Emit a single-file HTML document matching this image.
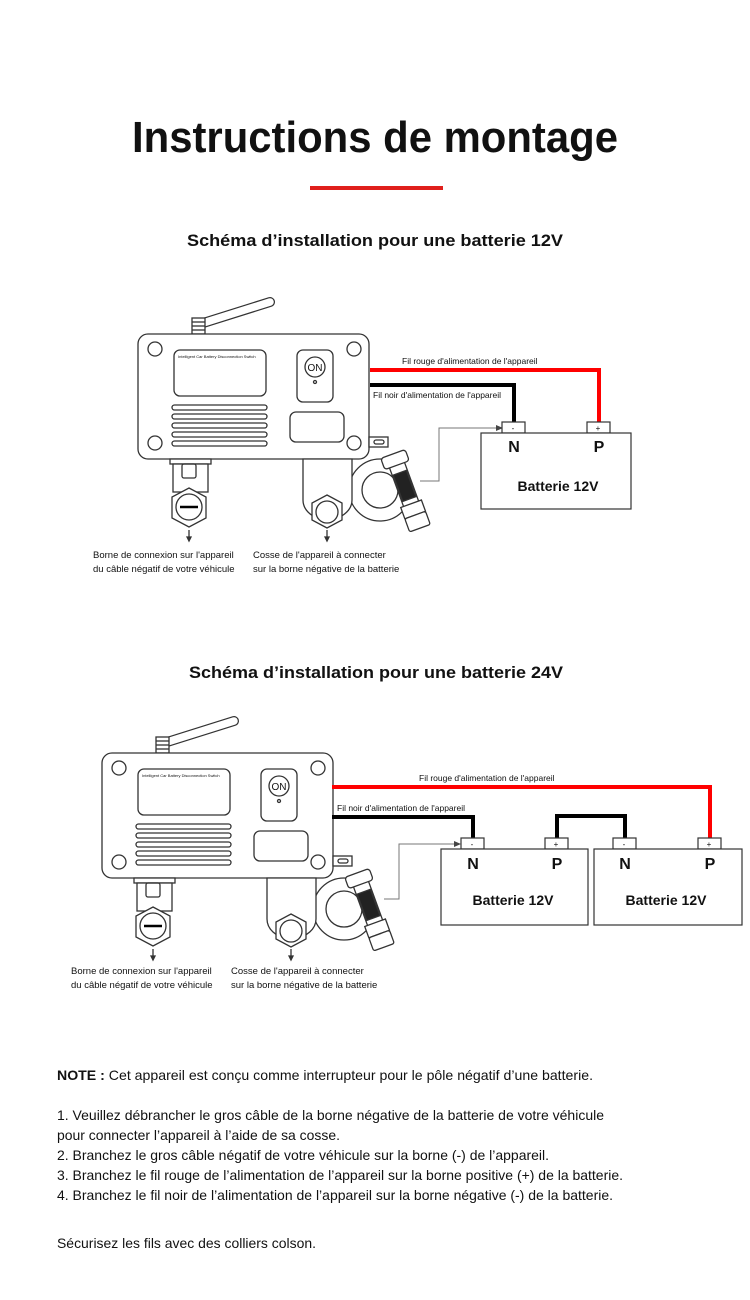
<!DOCTYPE html>
<html><head><meta charset="utf-8"><style>
html,body{margin:0;padding:0;background:#fff}
svg{display:block}
text{font-family:"Liberation Sans",Arial,sans-serif;fill:#111}
</style></head><body>
<svg width="750" height="1300" viewBox="0 0 750 1300" xmlns="http://www.w3.org/2000/svg">
<text x="375" y="152" text-anchor="middle" font-size="44" font-weight="bold" textLength="486" lengthAdjust="spacingAndGlyphs">Instructions de montage</text>
<rect x="310" y="186" width="133" height="4" fill="#e0201c"/>
<text x="375" y="246" text-anchor="middle" font-size="17" font-weight="bold" textLength="376" lengthAdjust="spacingAndGlyphs">Schéma d’installation pour une batterie 12V</text>
<text x="376" y="678" text-anchor="middle" font-size="17" font-weight="bold" textLength="374" lengthAdjust="spacingAndGlyphs">Schéma d’installation pour une batterie 24V</text>

<!-- DEVICE 1 -->
<g fill="none" stroke="#333" stroke-width="1.3">
 <line x1="200" y1="324" x2="270" y2="302" stroke="#333" stroke-width="10" stroke-linecap="round"/>
 <line x1="200" y1="324" x2="270" y2="302" stroke="#fff" stroke-width="7.5" stroke-linecap="round"/>
 <rect x="192" y="318" width="13" height="16" fill="#fff"/>
 <line x1="192" y1="322" x2="205" y2="322"/><line x1="192" y1="326" x2="205" y2="326"/><line x1="192" y1="330" x2="205" y2="330"/>
 <rect x="138" y="334" width="231" height="125" rx="10" fill="#fff"/>
 <circle cx="155" cy="349" r="7"/><circle cx="354" cy="349" r="7"/><circle cx="155" cy="443" r="7"/><circle cx="354" cy="443" r="7"/>
 <rect x="174" y="350" width="92" height="46" rx="6"/>
 <rect x="172" y="405" width="95" height="5" rx="2.5"/><rect x="172" y="414" width="95" height="5" rx="2.5"/><rect x="172" y="423" width="95" height="5" rx="2.5"/><rect x="172" y="432" width="95" height="5" rx="2.5"/><rect x="172" y="441" width="95" height="5" rx="2.5"/>
 <rect x="297" y="350" width="36" height="52" rx="6"/>
 <circle cx="315" cy="367" r="10"/><circle cx="315" cy="382" r="1.5"/>
 <rect x="290" y="412" width="54" height="30" rx="6"/>
 <rect x="369" y="437" width="19" height="10" fill="#fff"/><rect x="374" y="440" width="10" height="4" rx="2"/>
 <rect x="170" y="459" width="41" height="5" fill="#fff"/>
 <rect x="173" y="464" width="35" height="28" fill="#fff"/>
 <rect x="182" y="464" width="14" height="14" rx="2"/>
 <polygon points="189,488 206,497 206,518 189,527 172,518 172,497" fill="#fff"/>
 <circle cx="189" cy="507" r="13"/>
 <line x1="180" y1="507" x2="198" y2="507" stroke="#000" stroke-width="2.5"/>
 <line x1="189" y1="530" x2="189" y2="538"/><path d="M187,537 L189,541 L191,537Z" fill="#333"/>
 <circle cx="380" cy="490" r="31" fill="#fff"/><circle cx="380" cy="490" r="18"/>
 <path d="M303,459 L352,459 L352,500 Q352,515 327,522 Q303,515 303,500Z" fill="#fff"/>
 <polygon points="327,495 342,503 342,520 327,528 312,520 312,503" fill="#fff"/>
 <circle cx="327" cy="512" r="11"/>
 <g transform="rotate(-20 405 490)">
  <rect x="398" y="455" width="16" height="70" fill="#fff"/>
  <rect x="399" y="472" width="14" height="28" fill="#222"/>
  <rect x="393" y="452" width="26" height="12" rx="3" fill="#fff"/>
  <rect x="395" y="505" width="22" height="12" fill="#fff"/>
  <rect x="395" y="517" width="22" height="14" rx="2" fill="#fff"/>
 </g>
 <line x1="327" y1="530" x2="327" y2="538"/><path d="M325,537 L327,541 L329,537Z" fill="#333"/>
</g>
<text x="315" y="371" text-anchor="middle" font-size="10" font-family="Liberation Serif,serif">ON</text>
<text x="178" y="358" font-size="4" fill="#666">Intelligent Car Battery Disconnection Switch</text>

<!-- wires 1 -->
<polyline points="370,370 599,370 599,422" fill="none" stroke="#f00" stroke-width="4"/>
<polyline points="370,385 514,385 514,422" fill="none" stroke="#000" stroke-width="4"/>
<polyline points="420,481 439,481 439,428 500,428" fill="none" stroke="#777" stroke-width="1"/>
<path d="M496,425 L503,428 L496,431Z" fill="#444"/>
<g fill="#fff" stroke="#333" stroke-width="1.2">
 <rect x="502" y="422" width="23" height="11"/><rect x="587" y="422" width="23" height="11"/>
 <rect x="481" y="433" width="150" height="76"/>
</g>
<text x="513" y="431" text-anchor="middle" font-size="8">-</text>
<text x="598" y="431" text-anchor="middle" font-size="8">+</text>
<text x="514" y="452" text-anchor="middle" font-size="16" font-weight="bold">N</text>
<text x="599" y="452" text-anchor="middle" font-size="16" font-weight="bold">P</text>
<text x="558" y="491" text-anchor="middle" font-size="14" font-weight="bold">Batterie 12V</text>
<text x="402" y="364" font-size="8.5">Fil rouge d'alimentation de l'appareil</text>
<text x="373" y="398" font-size="8.5">Fil noir d'alimentation de l'appareil</text>
<text x="93" y="558" font-size="9.5">Borne de connexion sur l'appareil</text>
<text x="93" y="572" font-size="9.5">du câble négatif de votre véhicule</text>
<text x="253" y="558" font-size="9.5">Cosse de l'appareil à connecter</text>
<text x="253" y="572" font-size="9.5">sur la borne négative de la batterie</text>

<!-- DEVICE 2 -->
<g transform="translate(-36,419)">
<g fill="none" stroke="#333" stroke-width="1.3">
 <line x1="200" y1="324" x2="270" y2="302" stroke="#333" stroke-width="10" stroke-linecap="round"/>
 <line x1="200" y1="324" x2="270" y2="302" stroke="#fff" stroke-width="7.5" stroke-linecap="round"/>
 <rect x="192" y="318" width="13" height="16" fill="#fff"/>
 <line x1="192" y1="322" x2="205" y2="322"/><line x1="192" y1="326" x2="205" y2="326"/><line x1="192" y1="330" x2="205" y2="330"/>
 <rect x="138" y="334" width="231" height="125" rx="10" fill="#fff"/>
 <circle cx="155" cy="349" r="7"/><circle cx="354" cy="349" r="7"/><circle cx="155" cy="443" r="7"/><circle cx="354" cy="443" r="7"/>
 <rect x="174" y="350" width="92" height="46" rx="6"/>
 <rect x="172" y="405" width="95" height="5" rx="2.5"/><rect x="172" y="414" width="95" height="5" rx="2.5"/><rect x="172" y="423" width="95" height="5" rx="2.5"/><rect x="172" y="432" width="95" height="5" rx="2.5"/><rect x="172" y="441" width="95" height="5" rx="2.5"/>
 <rect x="297" y="350" width="36" height="52" rx="6"/>
 <circle cx="315" cy="367" r="10"/><circle cx="315" cy="382" r="1.5"/>
 <rect x="290" y="412" width="54" height="30" rx="6"/>
 <rect x="369" y="437" width="19" height="10" fill="#fff"/><rect x="374" y="440" width="10" height="4" rx="2"/>
 <rect x="170" y="459" width="41" height="5" fill="#fff"/>
 <rect x="173" y="464" width="35" height="28" fill="#fff"/>
 <rect x="182" y="464" width="14" height="14" rx="2"/>
 <polygon points="189,488 206,497 206,518 189,527 172,518 172,497" fill="#fff"/>
 <circle cx="189" cy="507" r="13"/>
 <line x1="180" y1="507" x2="198" y2="507" stroke="#000" stroke-width="2.5"/>
 <line x1="189" y1="530" x2="189" y2="538"/><path d="M187,537 L189,541 L191,537Z" fill="#333"/>
 <circle cx="380" cy="490" r="31" fill="#fff"/><circle cx="380" cy="490" r="18"/>
 <path d="M303,459 L352,459 L352,500 Q352,515 327,522 Q303,515 303,500Z" fill="#fff"/>
 <polygon points="327,495 342,503 342,520 327,528 312,520 312,503" fill="#fff"/>
 <circle cx="327" cy="512" r="11"/>
 <g transform="rotate(-20 405 490)">
  <rect x="398" y="455" width="16" height="70" fill="#fff"/>
  <rect x="399" y="472" width="14" height="28" fill="#222"/>
  <rect x="393" y="452" width="26" height="12" rx="3" fill="#fff"/>
  <rect x="395" y="505" width="22" height="12" fill="#fff"/>
  <rect x="395" y="517" width="22" height="14" rx="2" fill="#fff"/>
 </g>
 <line x1="327" y1="530" x2="327" y2="538"/><path d="M325,537 L327,541 L329,537Z" fill="#333"/>
</g>
<text x="315" y="371" text-anchor="middle" font-size="10" font-family="Liberation Serif,serif">ON</text>
<text x="178" y="358" font-size="4" fill="#666">Intelligent Car Battery Disconnection Switch</text>
</g>

<!-- wires 2 -->
<polyline points="332,787 710,787 710,838" fill="none" stroke="#f00" stroke-width="4"/>
<polyline points="332,817 473,817 473,838" fill="none" stroke="#000" stroke-width="4"/>
<polyline points="557,838 557,816 625,816 625,838" fill="none" stroke="#000" stroke-width="4"/>
<polyline points="384,899 399,899 399,844 457,844" fill="none" stroke="#777" stroke-width="1"/>
<path d="M454,841 L461,844 L454,847Z" fill="#444"/>
<g fill="#fff" stroke="#333" stroke-width="1.2">
 <rect x="461" y="838" width="23" height="11"/><rect x="545" y="838" width="23" height="11"/>
 <rect x="613" y="838" width="23" height="11"/><rect x="698" y="838" width="23" height="11"/>
 <rect x="441" y="849" width="147" height="76"/><rect x="594" y="849" width="148" height="76"/>
</g>
<text x="472" y="847" text-anchor="middle" font-size="8">-</text>
<text x="556" y="847" text-anchor="middle" font-size="8">+</text>
<text x="624" y="847" text-anchor="middle" font-size="8">-</text>
<text x="709" y="847" text-anchor="middle" font-size="8">+</text>
<text x="473" y="869" text-anchor="middle" font-size="16" font-weight="bold">N</text>
<text x="557" y="869" text-anchor="middle" font-size="16" font-weight="bold">P</text>
<text x="625" y="869" text-anchor="middle" font-size="16" font-weight="bold">N</text>
<text x="710" y="869" text-anchor="middle" font-size="16" font-weight="bold">P</text>
<text x="513" y="905" text-anchor="middle" font-size="14" font-weight="bold">Batterie 12V</text>
<text x="666" y="905" text-anchor="middle" font-size="14" font-weight="bold">Batterie 12V</text>
<text x="419" y="781" font-size="8.5">Fil rouge d'alimentation de l'appareil</text>
<text x="337" y="811" font-size="8.5">Fil noir d'alimentation de l'appareil</text>
<text x="71" y="974" font-size="9.5">Borne de connexion sur l'appareil</text>
<text x="71" y="988" font-size="9.5">du câble négatif de votre véhicule</text>
<text x="231" y="974" font-size="9.5">Cosse de l'appareil à connecter</text>
<text x="231" y="988" font-size="9.5">sur la borne négative de la batterie</text>

<!-- notes -->
<g font-size="14">
<text x="57" y="1080" textLength="536" lengthAdjust="spacingAndGlyphs"><tspan font-weight="bold">NOTE :</tspan> Cet appareil est conçu comme interrupteur pour le pôle négatif d’une batterie.</text>
<text x="57" y="1120" textLength="547" lengthAdjust="spacingAndGlyphs">1. Veuillez débrancher le gros câble de la borne négative de la batterie de votre véhicule</text>
<text x="57" y="1140" textLength="283" lengthAdjust="spacingAndGlyphs">pour connecter l’appareil à l’aide de sa cosse.</text>
<text x="57" y="1160" textLength="492" lengthAdjust="spacingAndGlyphs">2. Branchez le gros câble négatif de votre véhicule sur la borne (-) de l’appareil.</text>
<text x="57" y="1180" textLength="566" lengthAdjust="spacingAndGlyphs">3. Branchez le fil rouge de l’alimentation de l’appareil sur la borne positive (+) de la batterie.</text>
<text x="57" y="1200" textLength="556" lengthAdjust="spacingAndGlyphs">4. Branchez le fil noir de l’alimentation de l’appareil sur la borne négative (-) de la batterie.</text>
<text x="57" y="1248" textLength="259" lengthAdjust="spacingAndGlyphs">Sécurisez les fils avec des colliers colson.</text>
</g>
</svg>
</body></html>
